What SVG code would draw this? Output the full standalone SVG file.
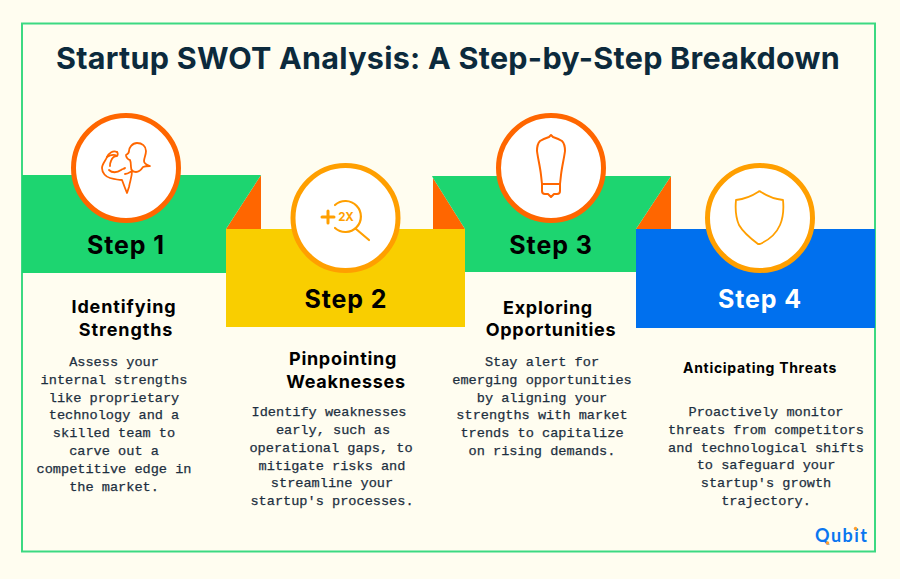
<svg xmlns="http://www.w3.org/2000/svg" width="900" height="579" viewBox="0 0 900 579">
<style>
.title{font:700 30.500px Inter,"Liberation Sans",sans-serif;fill:#0c2a3c;letter-spacing:.27px;text-anchor:middle}
.step{font:700 25px Inter,"Liberation Sans",sans-serif;fill:#000;text-anchor:middle;letter-spacing:.9px}
.head{font:700 18px Inter,"Liberation Sans",sans-serif;fill:#000;text-anchor:middle;letter-spacing:.7px}
.small{font:700 14px Inter,"Liberation Sans",sans-serif;fill:#000;text-anchor:middle;letter-spacing:.7px}
.body{font:400 13.600px "Liberation Mono","DejaVu Sans Mono",monospace;fill:#1d2f3f;stroke:#1d2f3f;stroke-width:.25;text-anchor:middle}
.ring{fill:#fff;stroke-width:5}
.or{stroke:#ff6600}.am{stroke:#ff9f00}
.ic{fill:none;stroke-linecap:round;stroke-linejoin:round;stroke-width:1.800}
</style>
<rect width="900" height="579" fill="#fffdf0"/>
<rect x="22" y="23.500" width="853" height="528" fill="#fffdf0" stroke="#3cd982" stroke-width="2"/>
<text class="title" x="448" y="69">Startup SWOT Analysis: A Step-by-Step Breakdown</text>
<g id="connectors">
<path d="M261 175V229H226Z" fill="#ff6600"/>
<path d="M433 178V229H465Z" fill="#ff6600"/>
<path d="M671 176V229H636Z" fill="#ff6600"/>
</g>
<g id="step1">
<path d="M22 175H261L226 229V273H22Z" fill="#1dd570"/>
<circle class="ring or" cx="126" cy="168" r="52.500"/>
<g class="ic or"><path d="M117 152c-4-2-8 1-10 5-1 3-5 7-5 11 0 5 4 9 8 10 4 1 9 2 12 2l3 8 2 5 2-6c1-6 3-10 3-16-2 1-4 3-7 3"/><path d="M107 157c3-2 7-3 10-1 1-1 1-3 0-4M117 156c-3 0-5 2-6 5-1 2-1 4-1 5M109 170c3 3 8 3 12 0 1-1 3-1 4-2"/><path d="M126 155c2-1 3-2 3-4 0-3 3-8 8-8 5 0 9 3 9 8 0 4-2 7-2 10 0 2 3 4 6 5-3 0-5 0-7 1-2 3-4 5-7 5-3 0-5-2-5-5 0-3 0-5-1-7-2 0-4-3-4-5z"/></g>
<text class="step" x="126" y="254">Step 1</text>
<text class="head"><tspan x="124" y="313" style="letter-spacing:.9px">Identifying</tspan><tspan x="126" y="336" style="letter-spacing:.9px">Strengths</tspan></text>
<text class="body"><tspan x="114" y="366">Assess your</tspan><tspan x="114" y="384">internal strengths</tspan><tspan x="114" y="402">like proprietary</tspan><tspan x="114" y="419">technology and a</tspan><tspan x="114" y="437">skilled team to</tspan><tspan x="114" y="455">carve out a</tspan><tspan x="114" y="473">competitive edge in</tspan><tspan x="114" y="491">the market.</tspan></text>
</g>
<g id="step2">
<rect x="226" y="229" width="239" height="98" fill="#f9ce00"/>
<circle class="ring am" cx="345.500" cy="218" r="52.500"/>
<g class="ic am"><path d="M335 205a15.500 15.500 0 1 1 0 23M356 229l13 11" stroke-width="2.200"/><path d="M322 217h12M328 211v12" stroke-width="3"/></g>
<text x="346" y="221" font-family="Inter,'Liberation Sans',sans-serif" font-size="11.500" font-weight="700" fill="#ff9f00" text-anchor="middle">2X</text>
<text class="step" x="346" y="308">Step 2</text>
<text class="head"><tspan x="343" y="365">Pinpointing</tspan><tspan x="346" y="388">Weaknesses</tspan></text>
<text class="body"><tspan x="329" y="416">Identify weaknesses</tspan><tspan x="333" y="434">early, such as</tspan><tspan x="331" y="452">operational gaps, to</tspan><tspan x="332" y="470">mitigate risks and</tspan><tspan x="332" y="487">streamline your</tspan><tspan x="332" y="505">startup's processes.</tspan></text>
</g>
<g id="step3">
<path d="M432 176H671L636 229V272H465V229L433 178Z" fill="#1dd570"/>
<circle class="ring or" cx="551" cy="168" r="52.500"/>
<g class="ic or"><path d="M551 135l2 2c3 1 6 2 9 4 3 3 3 6 3 10-1 8-3 15-4 24l-1 9h-18l-1-9c-1-9-3-16-4-24 0-4 0-7 3-10 3-2 6-3 9-4z" stroke-width="2"/><path d="M542 184v7c0 2 1 3 3 3h3l3 3 3-3h3c2 0 3-1 3-3v-7" stroke-width="2"/></g>
<text class="step" x="551" y="254">Step 3</text>
<text class="head"><tspan x="548" y="314">Exploring</tspan><tspan x="551" y="336">Opportunities</tspan></text>
<text class="body"><tspan x="542" y="366">Stay alert for</tspan><tspan x="542" y="384">emerging opportunities</tspan><tspan x="542" y="402">by aligning your</tspan><tspan x="542" y="419">strengths with market</tspan><tspan x="542" y="437">trends to capitalize</tspan><tspan x="542" y="455">on rising demands.</tspan></text>
</g>
<g id="step4">
<rect x="636" y="229" width="239" height="99" fill="#0070ee"/>
<circle class="ring am" cx="760" cy="218" r="52.500"/>
<path class="ic am" d="M736 200c9-1 16-4 22-8 1-1 2-1 3 0 6 4 13 7 22 8 1 10 0 18-3 25-3 7-9 14-20 19-1 0-1 0-2 0-8-6-15-12-19-19-3-7-4-15-3-25z"/>
<text class="step" x="760" y="308" style="fill:#fff">Step 4</text>
<text class="small" x="760" y="373">Anticipating Threats</text>
<text class="body"><tspan x="766" y="416">Proactively monitor</tspan><tspan x="766" y="434">threats from competitors</tspan><tspan x="766" y="452">and technological shifts</tspan><tspan x="766" y="469">to safeguard your</tspan><tspan x="766" y="487">startup's growth</tspan><tspan x="766" y="505">trajectory.</tspan></text>
</g>
<g id="logo">
<text x="815" y="542" font-family="Lato,'Liberation Sans',sans-serif" font-size="18" font-weight="700" fill="#0a76f0" textLength="52">Qubit</text>
<circle cx="827.500" cy="543" r="1.700" fill="#ff9f2e"/>
<circle cx="855.500" cy="528.500" r="1.700" fill="#ff9f2e"/>
</g>
</svg>
